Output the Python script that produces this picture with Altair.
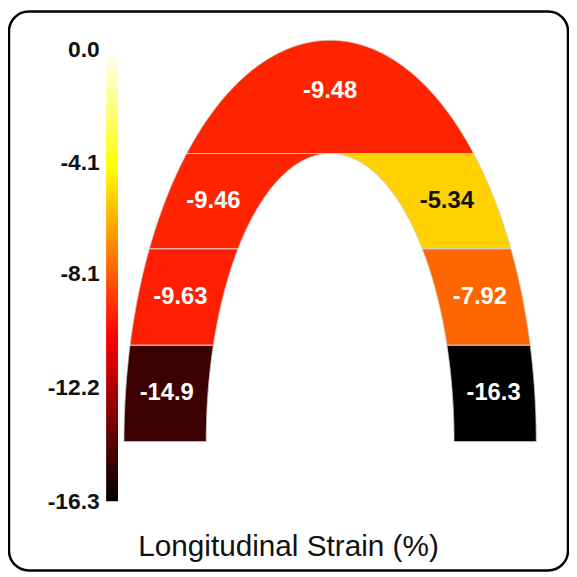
import numpy as np
import pandas as pd
import altair as alt

# ---- data -------------------------------------------------------------
SEGMENTS = ["Apex", "Apical left", "Mid left", "Basal left",
            "Apical right", "Mid right", "Basal right"]
STRAIN = [-9.48, -9.46, -9.63, -14.9, -5.34, -7.92, -16.3]
SIDE = ["cap", "left", "left", "left", "right", "right", "right"]
ROW = [3, 2, 1, 0, 2, 1, 0]  # 0 = basal row

TICK_VALUES = [0.0, -4.1, -8.1, -12.2, -16.3]
SCALE_MIN, SCALE_MAX = -16.3, 0.0
COLOR_DOMAIN = [-16.3, -10.35, -4.24, 0.0]
COLOR_RANGE = ["#000000", "#ff0000", "#ffff00", "#ffffff"]
TITLE = "Longitudinal Strain (%)"

# ---- geometry: arch made of two half-ellipses ---------------------------
A_OUT, B_OUT = 208.0, 404.0
A_IN, B_IN = 125.0, 290.0
ROW_EDGES = [0.0, 97.0, 194.0, 290.0]


def outer(y):
    return A_OUT * np.sqrt(np.clip(1 - (y / B_OUT) ** 2, 0, None))


def inner(y):
    return A_IN * np.sqrt(np.clip(1 - (y / B_IN) ** 2, 0, None))


area_rows = []
label_rows = []
for name, val, side, row in zip(SEGMENTS, STRAIN, SIDE, ROW):
    if side == "cap":
        phi = np.linspace(np.arcsin(B_IN / B_OUT), np.pi / 2, 240)
        ys = B_OUT * np.sin(phi)
        xo = A_OUT * np.cos(phi)
        x0, x1 = -xo, xo
        lx, ly = 0.0, B_IN + 0.55 * (B_OUT - B_IN)
    else:
        lo, hi = ROW_EDGES[row], ROW_EDGES[row + 1]
        ys = np.linspace(lo, hi, 320)
        sign = -1.0 if side == "left" else 1.0
        x0, x1 = sign * outer(ys), sign * inner(ys)
        ym = (lo + hi) / 2
        lx, ly = sign * (outer(ym) + inner(ym)) / 2, ym
    for yv, a, b in zip(ys, x0, x1):
        area_rows.append({"segment": name, "strain": val, "y": float(yv),
                          "x0": float(a), "x1": float(b)})
    label_rows.append({"segment": name, "strain": val, "label": f"{val:.3g}",
                       "lx": float(lx), "ly": float(ly)})

area_df = pd.DataFrame(area_rows)
label_df = pd.DataFrame(label_rows)
bar_df = pd.DataFrame({"lo": [SCALE_MIN], "hi": [SCALE_MAX]})

# ---- scales -------------------------------------------------------------
xs = alt.Scale(domain=[-A_OUT, A_OUT], range=[116, 532], nice=False, zero=False)
ysc = alt.Scale(domain=[0, B_OUT], range=[434, 29], nice=False, zero=False)
color_scale = alt.Scale(domain=COLOR_DOMAIN, range=COLOR_RANGE, interpolate="rgb")

FONT = "Liberation Sans"

gradient = alt.LinearGradient(
    gradient="linear",
    stops=[alt.GradientStop(color=c, offset=(d - SCALE_MIN) / (SCALE_MAX - SCALE_MIN))
           for d, c in zip(COLOR_DOMAIN, COLOR_RANGE)],
    x1=0, x2=0, y1=1, y2=0,
)

bar = alt.Chart(bar_df).mark_rect(color=gradient).encode(
    x=alt.value(98),
    x2=alt.value(110),
    y=alt.Y("lo:Q",
            scale=alt.Scale(domain=[SCALE_MIN, SCALE_MAX], range=[494, 38], nice=False, zero=False),
            axis=alt.Axis(orient="left", values=TICK_VALUES, format=".1f", offset=-91,
                          labelExpr="replace(datum.label, '\u2212', '-')",
                          ticks=False, tickSize=0, domain=False, grid=False, labelPadding=0,
                          labelFontSize=23, labelFontWeight="bold", labelFont=FONT,
                          labelColor="#111111", title=None, labelFlush=False,
                          labelOverlap=False)),
    y2="hi:Q",
)

areas = alt.Chart(area_df).mark_area(orient="horizontal", stroke="#d0d0d0", strokeWidth=1).encode(
    y=alt.Y("y:Q", scale=ysc, axis=None),
    x=alt.X("x0:Q", scale=xs, axis=None, stack=None),
    x2="x1:Q",
    color=alt.Color("strain:Q", scale=color_scale, legend=None),
    detail="segment:N",
)

texts = alt.Chart(label_df).mark_text(fontSize=24, fontWeight="bold", font=FONT).encode(
    x=alt.X("lx:Q", scale=xs, axis=None),
    y=alt.Y("ly:Q", scale=ysc, axis=None),
    text=alt.Text("label:N"),
    color=alt.condition("datum.strain > -6", alt.value("#111111"), alt.value("#ffffff")),
)

chart = (
    alt.layer(bar, areas, texts)
    .resolve_scale(y="independent")
    .properties(
        width=564,
        height=564,
        autosize="none",
        padding={"left": 1, "top": 1, "right": 1, "bottom": 1},
        background="white",
        title=alt.TitleParams(TITLE, orient="bottom", frame="group", anchor="middle",
                              baseline="alphabetic", offset=-15, fontSize=30,
                              font=FONT, fontWeight="normal", color="#111111"),
    )
    .configure_view(stroke="black", strokeWidth=2.5, cornerRadius=20, fill="white")
)

chart.save("out.html", embed_options={"renderer": "svg", "actions": False})
